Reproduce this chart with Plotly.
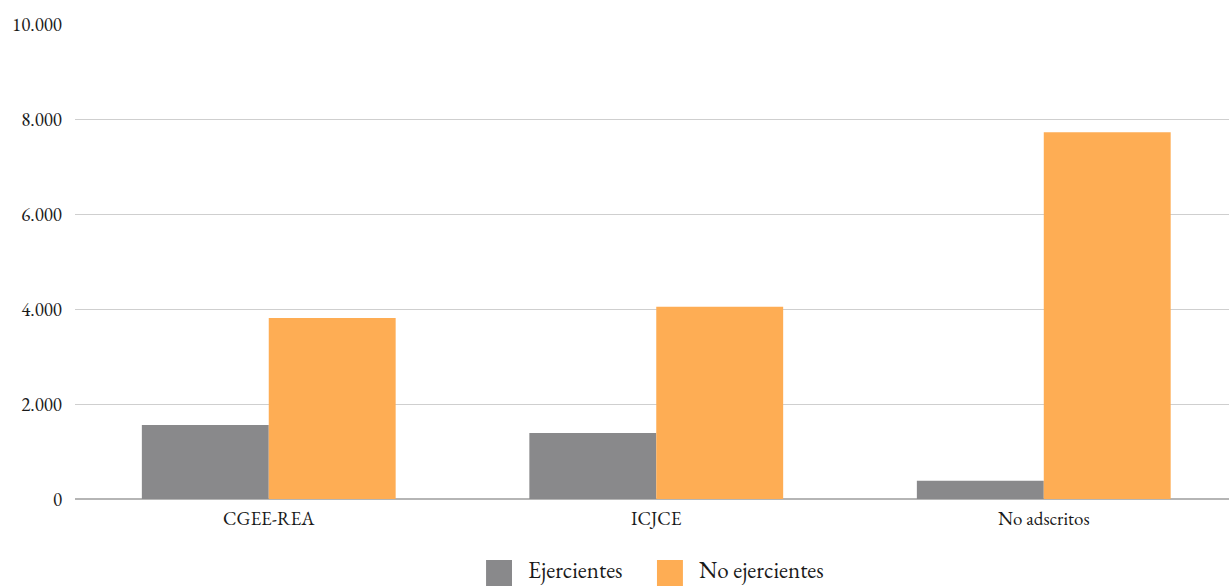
import plotly.graph_objects as go

categories = ["CGEE-REA", "ICJCE", "No adscritos"]
ejercientes = [1560, 1390, 385]
no_ejercientes = [3810, 4050, 7720]
series_names = ["Ejercientes", "No ejercientes"]
y_ticks = [0, 2000, 4000, 6000, 8000, 10000]

COLORS = ["#89898b", "#fead54"]
FONT = "EB Garamond, Garamond, Liberation Serif, serif"
TXT = "#1a1a1a"

fig = go.Figure()
for name, vals, col in zip(series_names, [ejercientes, no_ejercientes], COLORS):
    fig.add_trace(go.Bar(x=categories, y=vals, name=name,
                         marker=dict(color=col, line=dict(width=0))))

# legend drawn as large square swatches + labels (paper coordinates)
legend_x = [0.3562, 0.5043]
shapes = []
annotations = []
for lx, name, col in zip(legend_x, series_names, COLORS):
    shapes.append(dict(type="rect", xref="paper", yref="paper",
                       x0=lx, x1=lx + 0.0225, y0=-0.185, y1=-0.1284,
                       fillcolor=col, line=dict(width=0)))
    annotations.append(dict(xref="paper", yref="paper", x=lx + 0.0346, y=-0.149,
                            xanchor="left", yanchor="middle", showarrow=False,
                            text=name, font=dict(size=23, family=FONT, color=TXT)))

fig.update_layout(
    width=1229, height=586,
    margin=dict(l=75, r=0, t=24, b=87),
    paper_bgcolor="white", plot_bgcolor="white",
    separators=",.",
    barmode="group", bargap=0.345, bargroupgap=0,
    font=dict(family=FONT, size=19, color=TXT),
    showlegend=False,
    shapes=shapes, annotations=annotations,
    xaxis=dict(range=[-0.5, 2.478], showgrid=False, showline=False, ticks="", zeroline=False,
               tickfont=dict(size=19, family=FONT, color=TXT), ticklabelstandoff=6),
    yaxis=dict(range=[0, 10000], tickvals=y_ticks, tickformat=",d",
               showgrid=True, gridcolor="#cfcfcf", gridwidth=1.3,
               zeroline=True, zerolinecolor="#b5b5b5", zerolinewidth=2,
               showline=False, ticks="", ticklabelstandoff=12,
               tickfont=dict(size=19, family=FONT, color=TXT)),
)

fig.write_html("out.html")
